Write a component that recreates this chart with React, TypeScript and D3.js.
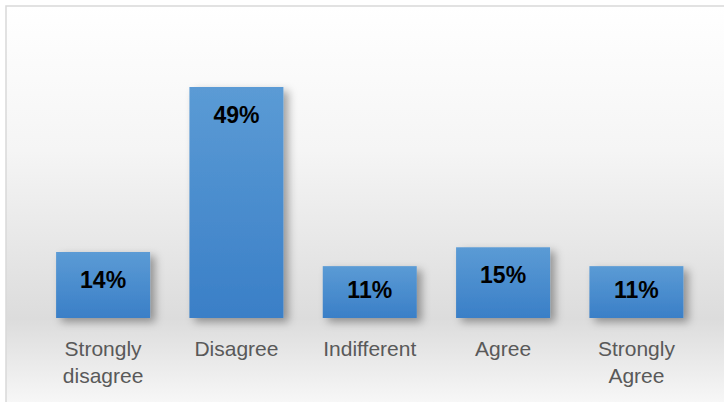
import React from "react";
import * as d3 from "d3";

const categories: string[][] = [
  ["Strongly", "disagree"],
  ["Disagree"],
  ["Indifferent"],
  ["Agree"],
  ["Strongly", "Agree"],
];
const values: number[] = [14, 49, 11, 15, 11];
const valueLabels: string[] = ["14%", "49%", "11%", "15%", "11%"];

const W = 724;
const H = 402;

export default function App() {
  const keys = categories.map((c) => c.join(" "));
  const x = d3.scaleBand<string>().domain(keys).range([36.5, 703]).paddingInner(0.295).paddingOuter(0.147);
  const base = 318;
  const y = d3.scaleLinear().domain([0, 49]).range([base, 87]);

  return (
    <svg
      width={W}
      height={H}
      style={{ position: "absolute", left: 0, top: 0, display: "block" }}
      fontFamily="'Liberation Sans', Arial, sans-serif"
    >
      <defs>
        <linearGradient id="bg" x1="0" y1="0" x2="0" y2="1">
          <stop offset="0" stopColor="#ffffff" />
          <stop offset="0.35" stopColor="#f5f5f5" />
          <stop offset="0.76" stopColor="#dcdcdc" />
          <stop offset="1" stopColor="#fcfcfc" />
        </linearGradient>
        <linearGradient id="bar" x1="0" y1="0" x2="0" y2="1">
          <stop offset="0" stopColor="#5b9bd5" />
          <stop offset="1" stopColor="#3a7fc7" />
        </linearGradient>
        <filter id="shadow" x="-20%" y="-20%" width="150%" height="150%">
          <feDropShadow dx="5" dy="4" stdDeviation="4" floodColor="#000" floodOpacity="0.35" />
        </filter>
      </defs>
      <rect x={6} y={6} width={W + 10} height={H + 10} fill="url(#bg)" stroke="#d9d9d9" strokeWidth={1.5} />
      {values.map((v, i) => {
        const bx = x(keys[i])!;
        const bw = x.bandwidth();
        const top = y(v);
        const ly = Math.min(top + 28, (top + base) / 2 - 2);
        return (
          <g key={keys[i]}>
            <rect x={bx} y={top} width={bw} height={base - top} fill="url(#bar)" filter="url(#shadow)" />
            <text
              x={bx + bw / 2}
              y={ly}
              textAnchor="middle"
              dominantBaseline="central"
              fontWeight="bold"
              fontSize={23}
              fill="#000"
            >
              {valueLabels[i]}
            </text>
            {categories[i].map((line, j) => (
              <text
                key={j}
                x={bx + bw / 2}
                y={348 + j * 27}
                textAnchor="middle"
                dominantBaseline="central"
                fontSize={21}
                fill="#595959"
              >
                {line}
              </text>
            ))}
          </g>
        );
      })}
    </svg>
  );
}
